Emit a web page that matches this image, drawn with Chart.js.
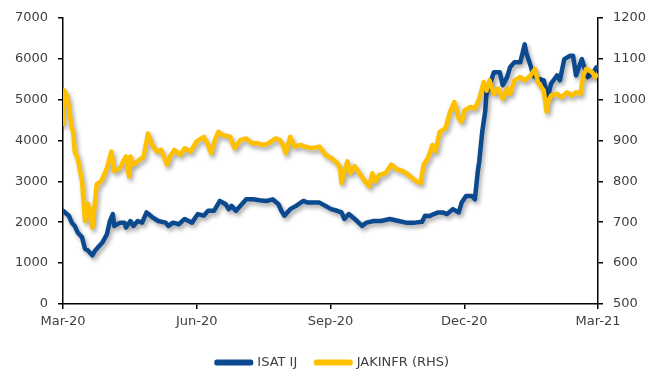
<!DOCTYPE html>
<html>
<head>
<meta charset="utf-8">
<script src="https://cdn.jsdelivr.net/npm/chart.js@4.4.1/dist/chart.umd.min.js"></script>
<style>
  html, body { margin: 0; padding: 0; background: #fff; overflow: hidden; }
  #wrap { width: 666px; height: 379px; }
</style>
</head>
<body>
<div id="wrap"><canvas id="myChart"></canvas></div>
<script>
// x values are days counted from 1 Mar 2020
var isatDays = [0, 4, 6, 8, 10, 13, 15, 17, 20, 22, 25, 27, 30, 32, 34, 35, 39, 42, 43, 46, 48, 51, 54, 57, 61, 65, 70, 72, 75, 79,
    83, 88, 92, 96, 99, 103, 107, 111, 113, 115, 118, 122, 125, 130, 134, 139, 143, 147, 149, 151, 155, 159, 164, 167, 171, 175, 179, 183, 187, 190,
    192, 195, 199, 204, 207, 212, 217, 223, 229, 234, 240, 245, 247, 250, 253, 256, 259, 262, 266, 270, 272, 275, 279, 281, 283, 284, 286, 288, 289, 291,
    294, 298, 300, 303, 305, 308, 312, 315, 316, 319, 321, 324, 328, 330, 331, 333, 337, 339, 342, 346, 348, 350, 354, 356, 358, 362, 364];
var isatValues = [2280, 2160, 1990, 1910, 1750, 1630, 1350, 1310, 1190, 1310, 1430, 1510, 1710, 2030, 2200, 1910, 1990, 1990, 1870, 2030, 1910, 2030, 1990, 2240, 2120, 2030, 1990, 1910, 1990, 1950,
    2080, 1990, 2200, 2160, 2280, 2280, 2520, 2440, 2320, 2400, 2280, 2440, 2560, 2560, 2540, 2520, 2560, 2440, 2280, 2160, 2320, 2400, 2520, 2480, 2480, 2480, 2400, 2320, 2280, 2240,
    2080, 2200, 2080, 1910, 1990, 2030, 2030, 2080, 2030, 1990, 1990, 2010, 2160, 2150, 2200, 2240, 2240, 2200, 2320, 2240, 2480, 2640, 2640, 2560, 3250, 3490, 4210, 4700, 5180, 5350,
    5670, 5670, 5350, 5550, 5790, 5910, 5910, 6350, 6150, 5830, 5590, 5510, 5470, 5180, 5100, 5390, 5590, 5470, 5990, 6070, 6070, 5590, 5990, 5750, 5550, 5670, 5790];

var jakDays = [0, 1, 3, 6, 7, 8, 10, 13, 15, 17, 20, 21, 23, 26, 30, 33, 35, 39, 41, 43, 45, 46, 48, 51, 55, 58, 61, 64, 67, 71,
    73, 76, 80, 83, 87, 91, 96, 99, 101, 104, 106, 109, 114, 117, 121, 125, 129, 132, 137, 140, 145, 148, 150, 152, 155, 158, 162, 165, 170, 175,
    179, 183, 187, 189, 190, 192, 194, 196, 199, 203, 206, 209, 211, 213, 216, 220, 224, 228, 232, 237, 241, 244, 246, 249, 252, 254, 257, 261, 264, 267,
    270, 272, 274, 278, 281, 284, 287, 289, 291, 294, 297, 300, 303, 305, 308, 312, 315, 319, 322, 324, 328, 330, 331, 333, 337, 340, 344, 347, 350, 353,
    355, 357, 361, 363, 364];
var jakValues = [940, 1022, 1006, 930, 921, 873, 857, 800, 703, 745, 687, 720, 793, 800, 833, 873, 825, 833, 849, 861, 812, 861, 841, 849, 861, 917, 889, 873, 877, 841,
    861, 877, 865, 881, 873, 897, 909, 889, 869, 905, 921, 913, 909, 881, 901, 905, 893, 893, 889, 893, 905, 901, 889, 869, 909, 885, 889, 885, 881, 885,
    865, 857, 845, 833, 796, 825, 849, 820, 837, 816, 800, 788, 820, 800, 816, 820, 841, 829, 825, 812, 800, 796, 841, 857, 889, 873, 921, 930, 970, 994,
    954, 946, 974, 982, 978, 1002, 1043, 1022, 1047, 1014, 1027, 1002, 1027, 1014, 1047, 1055, 1047, 1059, 1075, 1043, 1022, 970, 994, 1010, 1014, 1006, 1018, 1010, 1018, 1014,
    1059, 1075, 1067, 1055, 1059];

var tickDays = [0, 91.25, 182.5, 273.75, 365];
var tickLabels = ['Mar-20', 'Jun-20', 'Sep-20', 'Dec-20', 'Mar-21'];

var seriesNames = ['ISAT IJ', 'JAKINFR (RHS)'];
var blue = '#0B4A8F';
var gold = '#FFC000';
var axisColor = '#000000';

function toPoints(xs, ys) {
    return xs.map(function (x, i) { return { x: x, y: ys[i] }; });
}

// soft drop shadow under the lines, like the office chart
var shadowPlugin = {
    id: 'lineShadow',
    beforeDatasetDraw: function (chart) {
        var ctx = chart.ctx;
        ctx.save();
        ctx.shadowColor = 'rgba(0,0,0,0.35)';
        ctx.shadowBlur = 4;
        ctx.shadowOffsetX = 2;
        ctx.shadowOffsetY = 3;
    },
    afterDatasetDraw: function (chart) {
        chart.ctx.restore();
    }
};

Chart.defaults.font.family = '"DejaVu Sans", sans-serif';
Chart.defaults.font.size = 13;
Chart.defaults.color = '#404040';

function axisGrid() {
    return {
        display: true,
        drawOnChartArea: false,
        drawTicks: true,
        tickLength: 5,
        lineWidth: 1.5,
        color: axisColor
    };
}
function axisBorder() {
    return { display: true, color: axisColor, width: 1.5 };
}
function plainNumber(value) { return String(value); }

var ctx = document.getElementById('myChart').getContext('2d');
var myChart = new Chart(ctx, {
    type: 'line',
    data: {
        datasets: [
            {
                label: seriesNames[0],
                data: toPoints(isatDays, isatValues),
                borderColor: blue,
                backgroundColor: blue,
                borderWidth: 4.5,
                yAxisID: 'y',
                order: 2
            },
            {
                label: seriesNames[1],
                data: toPoints(jakDays, jakValues),
                borderColor: gold,
                backgroundColor: gold,
                borderWidth: 4.5,
                yAxisID: 'y1',
                order: 1
            }
        ]
    },
    options: {
        responsive: true,
        maintainAspectRatio: false,
        animation: false,
        parsing: false,
        layout: { padding: { top: 15, left: 0, right: 0, bottom: 0 } },
        elements: {
            point: { radius: 0 },
            line: { tension: 0, borderJoinStyle: 'round', borderCapStyle: 'round' }
        },
        plugins: {
            tooltip: { enabled: false },
            legend: {
                position: 'bottom',
                labels: {
                    boxWidth: 34,
                    boxHeight: 1,
                    padding: 19,
                    sort: function (a, b) { return a.datasetIndex - b.datasetIndex; },
                    generateLabels: function (chart) {
                        var items = Chart.defaults.plugins.legend.labels.generateLabels(chart);
                        items.forEach(function (it) { it.lineWidth = 5; it.lineJoin = 'round'; });
                        return items;
                    }
                }
            }
        },
        scales: {
            x: {
                type: 'linear',
                min: 0,
                max: 365,
                grid: axisGrid(),
                border: axisBorder(),
                afterBuildTicks: function (scale) {
                    scale.ticks = tickDays.map(function (d) { return { value: d }; });
                },
                afterFit: function (scale) { scale.height = 33; },
                ticks: {
                    autoSkip: false,
                    maxRotation: 0,
                    padding: 5,
                    callback: function (value, index) { return tickLabels[index]; }
                }
            },
            y: {
                position: 'left',
                min: 0,
                max: 7000,
                grid: axisGrid(),
                border: axisBorder(),
                afterFit: function (scale) { scale.width = 63; },
                ticks: { stepSize: 1000, padding: 10, callback: plainNumber }
            },
            y1: {
                position: 'right',
                min: 500,
                max: 1200,
                grid: axisGrid(),
                border: axisBorder(),
                afterFit: function (scale) { scale.width = 68; },
                ticks: { stepSize: 100, padding: 10, callback: plainNumber }
            }
        }
    },
    plugins: [shadowPlugin]
});
</script>
</body>
</html>
